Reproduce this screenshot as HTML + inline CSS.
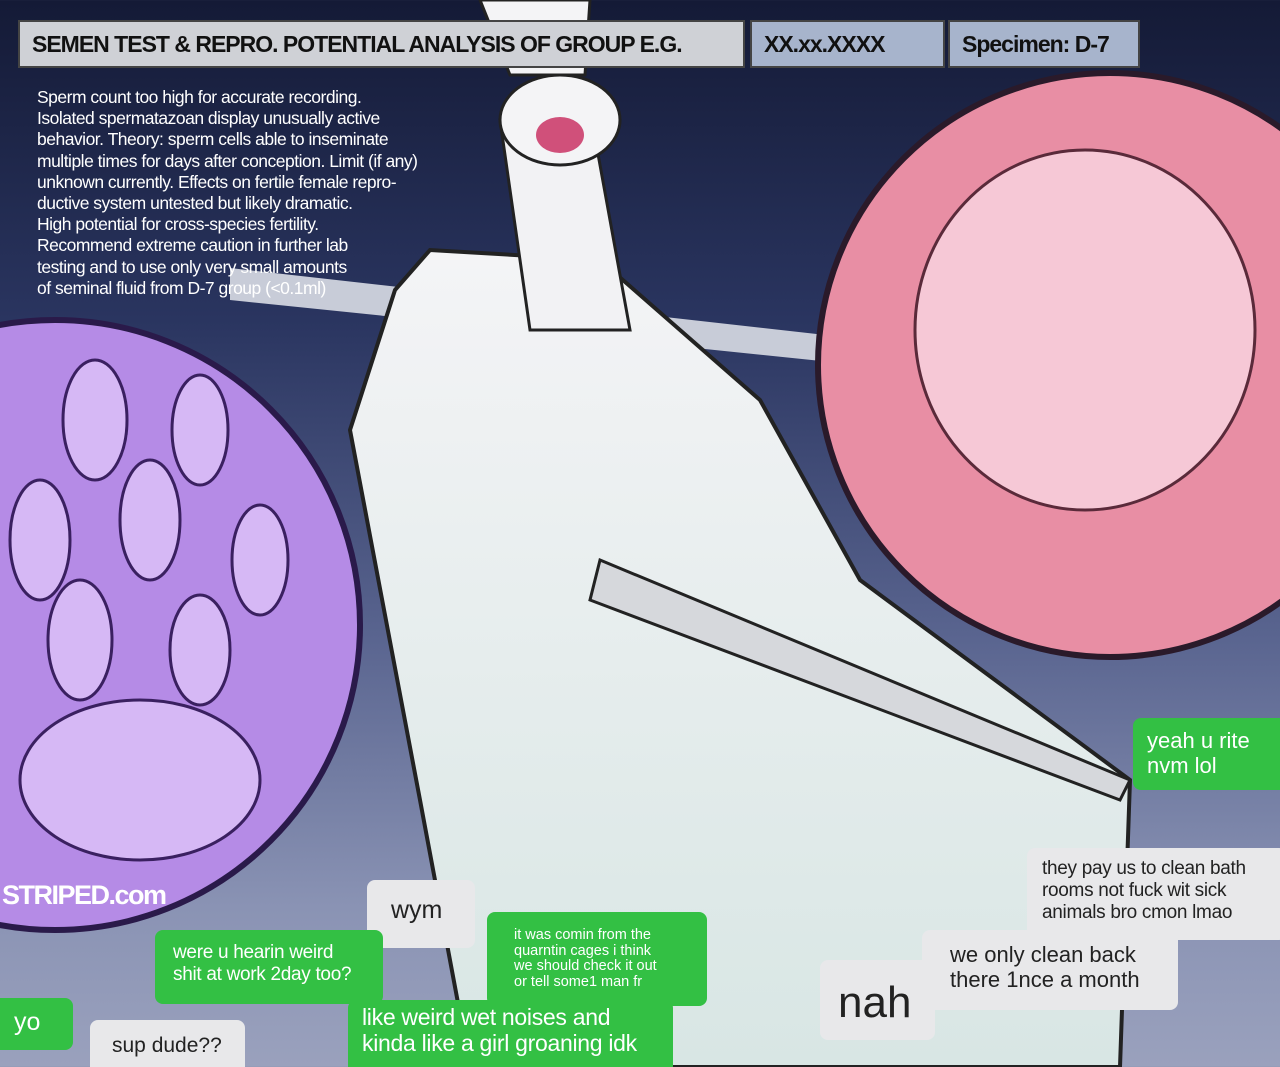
<!DOCTYPE html>
<html><head><meta charset="utf-8"><style>
html,body{margin:0;padding:0;width:1280px;height:1067px;overflow:hidden}
body{position:relative;font-family:"Liberation Sans",sans-serif;
background:linear-gradient(180deg,#141a36 0%,#2a3560 30%,#5a6590 60%,#8a93b4 85%,#9aa1bd 100%);}
.hb{position:absolute;top:20px;height:48px;border:2px solid #444;box-sizing:border-box;font-size:23px;font-weight:bold;line-height:44px;padding-left:12px;color:#111;letter-spacing:-1.0px;white-space:nowrap;overflow:hidden}
.para{position:absolute;left:37px;top:87px;color:#fff;font-size:17.5px;line-height:21.2px;letter-spacing:-0.5px;width:440px;white-space:nowrap}
.b{position:absolute;box-sizing:border-box;border-radius:8px;font-family:"Liberation Sans",sans-serif;line-height:1.15;white-space:nowrap;overflow:hidden}
.g{background:#33c044;color:#fff}
.w{background:#e8e8ea;color:#222}
</style></head><body>
<svg width="1280" height="1067" style="position:absolute;left:0;top:0">
<defs><linearGradient id="tub" x1="0" y1="0" x2="0" y2="1"><stop offset="0" stop-color="#f4f4f6"/><stop offset="1" stop-color="#d8e6e4"/></linearGradient></defs>
<polygon points="230,268 870,340 860,365 230,300" fill="#c8ccd8"/>
<polygon points="395,290 430,250 600,260 760,400 860,580 1130,780 1120,1067 470,1067 420,800 350,430" fill="url(#tub)" stroke="#222" stroke-width="4"/>
<polygon points="600,560 1130,780 1120,800 590,600" fill="#d6d8dc" stroke="#222" stroke-width="3"/>
<polygon points="500,120 590,110 630,330 530,330" fill="#f2f2f4" stroke="#222" stroke-width="3"/>
<ellipse cx="560" cy="120" rx="60" ry="45" fill="#f4f4f6" stroke="#222" stroke-width="3"/>
<ellipse cx="560" cy="135" rx="24" ry="18" fill="#d0507a"/>
<polygon points="480,0 590,0 585,75 510,75" fill="#f4f4f6" stroke="#222" stroke-width="3"/>
<circle cx="55" cy="625" r="305" fill="#b58be6" stroke="#2a1a4a" stroke-width="6"/>
<g fill="#d6b8f5" stroke="#3a2060" stroke-width="3">
<ellipse cx="95" cy="420" rx="32" ry="60"/><ellipse cx="200" cy="430" rx="28" ry="55"/><ellipse cx="150" cy="520" rx="30" ry="60"/>
<ellipse cx="260" cy="560" rx="28" ry="55"/><ellipse cx="40" cy="540" rx="30" ry="60"/><ellipse cx="80" cy="640" rx="32" ry="60"/>
<ellipse cx="200" cy="650" rx="30" ry="55"/><ellipse cx="140" cy="780" rx="120" ry="80"/></g>
<circle cx="1110" cy="365" r="292" fill="#e88ea4" stroke="#2a1a2a" stroke-width="6"/>
<ellipse cx="1085" cy="330" rx="170" ry="180" fill="#f6c8d6" stroke="#5a2a3a" stroke-width="3"/>
</svg>
<div class="hb" style="left:18px;width:727px;background:#cfd1d6">SEMEN TEST &amp; REPRO. POTENTIAL ANALYSIS OF GROUP E.G.</div>
<div class="hb" style="left:750px;width:195px;background:#a7b4cc">XX.xx.XXXX</div>
<div class="hb" style="left:948px;width:192px;background:#a7b4cc">Specimen: D-7</div>
<div class="para">Sperm count too high for accurate recording.<br>Isolated spermatazoan display unusually active<br>behavior. Theory: sperm cells able to inseminate<br>multiple times for days after conception. Limit (if any)<br>unknown currently. Effects on fertile female repro-<br>ductive system untested but likely dramatic.<br>High potential for cross-species fertility.<br>Recommend extreme caution in further lab<br>testing and to use only very small amounts<br>of seminal fluid from D-7 group (&lt;0.1ml)</div>
<div style="position:absolute;left:2px;top:880px;color:#fff;font-weight:bold;font-size:27px;letter-spacing:-1.5px">STRIPED.com</div>
<div class="b g" style="left:1133px;top:718px;width:160px;height:72px;padding:10px 14px;font-size:22px">yeah u rite<br>nvm lol</div>
<div class="b w" style="left:1027px;top:848px;width:260px;height:92px;padding:10px 15px;font-size:19px;letter-spacing:-0.3px">they pay us to clean bath<br>rooms not fuck wit sick<br>animals bro cmon lmao</div>
<div class="b w" style="left:922px;top:930px;width:256px;height:80px;padding:12px 28px;font-size:22px">we only clean back<br>there 1nce a month</div>
<div class="b w" style="left:820px;top:960px;width:115px;height:80px;padding:18px 18px;font-size:44px">nah</div>
<div class="b g" style="left:487px;top:912px;width:220px;height:94px;padding:16px 27px;font-size:14.5px;line-height:1.08">it was comin from the<br>quarntin cages i think<br>we should check it out<br>or tell some1 man fr</div>
<div class="b g" style="left:348px;top:1000px;width:325px;height:80px;padding:4px 14px;font-size:23px;letter-spacing:-0.3px">like weird wet noises and<br>kinda like a girl groaning idk</div>
<div class="b w" style="left:367px;top:880px;width:108px;height:68px;padding:16px 24px;font-size:25px">wym</div>
<div class="b g" style="left:155px;top:930px;width:228px;height:74px;padding:12px 18px;font-size:19px;letter-spacing:-0.3px">were u hearin weird<br>shit at work 2day too?</div>
<div class="b g" style="left:-8px;top:998px;width:81px;height:52px;padding:10px 22px;font-size:25px">yo</div>
<div class="b w" style="left:90px;top:1020px;width:155px;height:60px;padding:14px 22px;font-size:21px">sup dude??</div>
</body></html>
